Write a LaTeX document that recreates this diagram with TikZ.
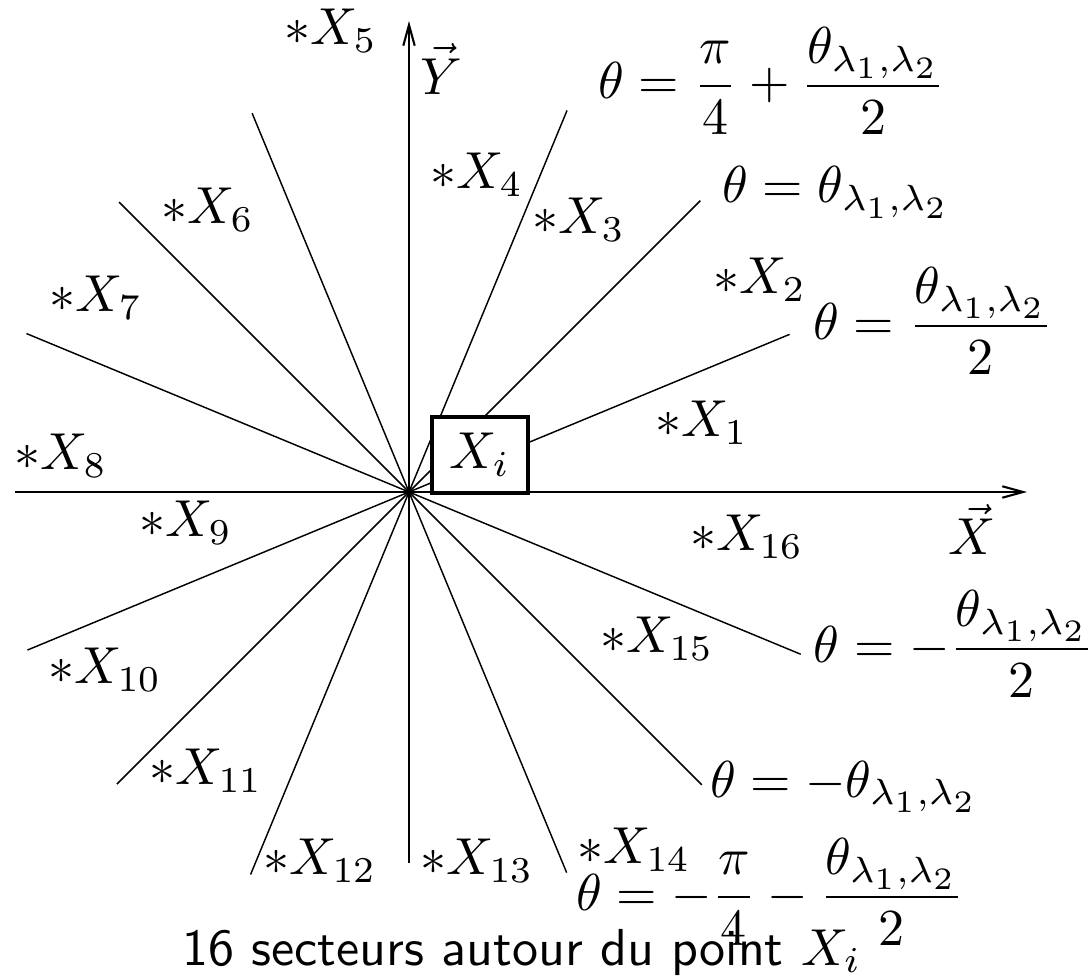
\documentclass[tikz,border=0pt]{standalone}
\usepackage{amsmath,amssymb}
\usepackage{tikz}
\usetikzlibrary{arrows.meta,calc}
\DeclareMathSizes{10}{10}{7}{6}

\begin{document}
\begin{tikzpicture}[x=0.1923pt,y=0.1923pt,>={Straight Barb[length=4pt,width=2.2pt]},
  ray/.style={line width=0.28pt},
  axis/.style={line width=0.4pt,->},
  lab/.style={inner sep=0pt},
  formula/.style={inner sep=0pt,anchor=base}]
\useasboundingbox (-409,-484) rectangle (682,492);
\coordinate (O) at (0,0);
% sector limits (the axes give the other four)
\foreach \a/\r [count=\k] in {22.5/412,45/412,67.5/413,112.5/410,135/410,157.5/414,202.5/413,225/413,247.5/414,292.5/412,315/414,337.5/424}
  {\coordinate (s\k) at (\a:\r); \draw[ray] (O)--(s\k);}
% axes
\coordinate (Xw) at (-394,0); \coordinate (Xe) at (618,0);
\coordinate (Ys) at (0,-371); \coordinate (Yn) at (0,471);
\draw[axis] (Xw)--(Xe);
\draw[axis] (Ys)--(Yn);
\node[lab] (vx) at (563,-37) {$\vec{X}$};
\node[lab] (vy) at (32,423) {$\vec{Y}$};
% the point and its neighbours
\node[draw,fill=white,line width=0.65pt,minimum width=18.5pt,minimum height=14.6pt,inner sep=0pt] (Xi) at (71,37) {$X_i$};
\foreach \k/\x/\y in {1/293/69,2/351/212,3/170/272,4/68/317,5/-78/461,6/-201/282,7/-313/194,8/-348/36,
  9/-223/-31,10/-304/-178,11/-203/-279,12/-89/-369,13/68/-369,14/225/-358,15/248/-147,16/338/-45}
  {\node[lab] (x\k) at (\x,\y) {$*X_{\k}$};}
% angles of the limits
\node[formula] (th1) at (363,393) {$\theta=\dfrac{\pi}{4}+\dfrac{\theta_{\lambda_1,\lambda_2}}{2}$};
\node[formula] (th2) at (427,289) {$\theta=\theta_{\lambda_1,\lambda_2}$};
\node[formula] (th3) at (524,153) {$\theta=\dfrac{\theta_{\lambda_1,\lambda_2}}{2}$};
\node[formula] (th4) at (545,-170) {$\theta=-\dfrac{\theta_{\lambda_1,\lambda_2}}{2}$};
\node[formula] (th5) at (435,-305) {$\theta=-\theta_{\lambda_1,\lambda_2}$};
\node[formula] (th6) at (361,-418) {$\theta=-\dfrac{\pi}{4}-\dfrac{\theta_{\lambda_1,\lambda_2}}{2}$};
\node[formula] (cap) at (113,-473) {\sffamily 16 secteurs autour du point $X_i$};
\end{tikzpicture}
\end{document}
